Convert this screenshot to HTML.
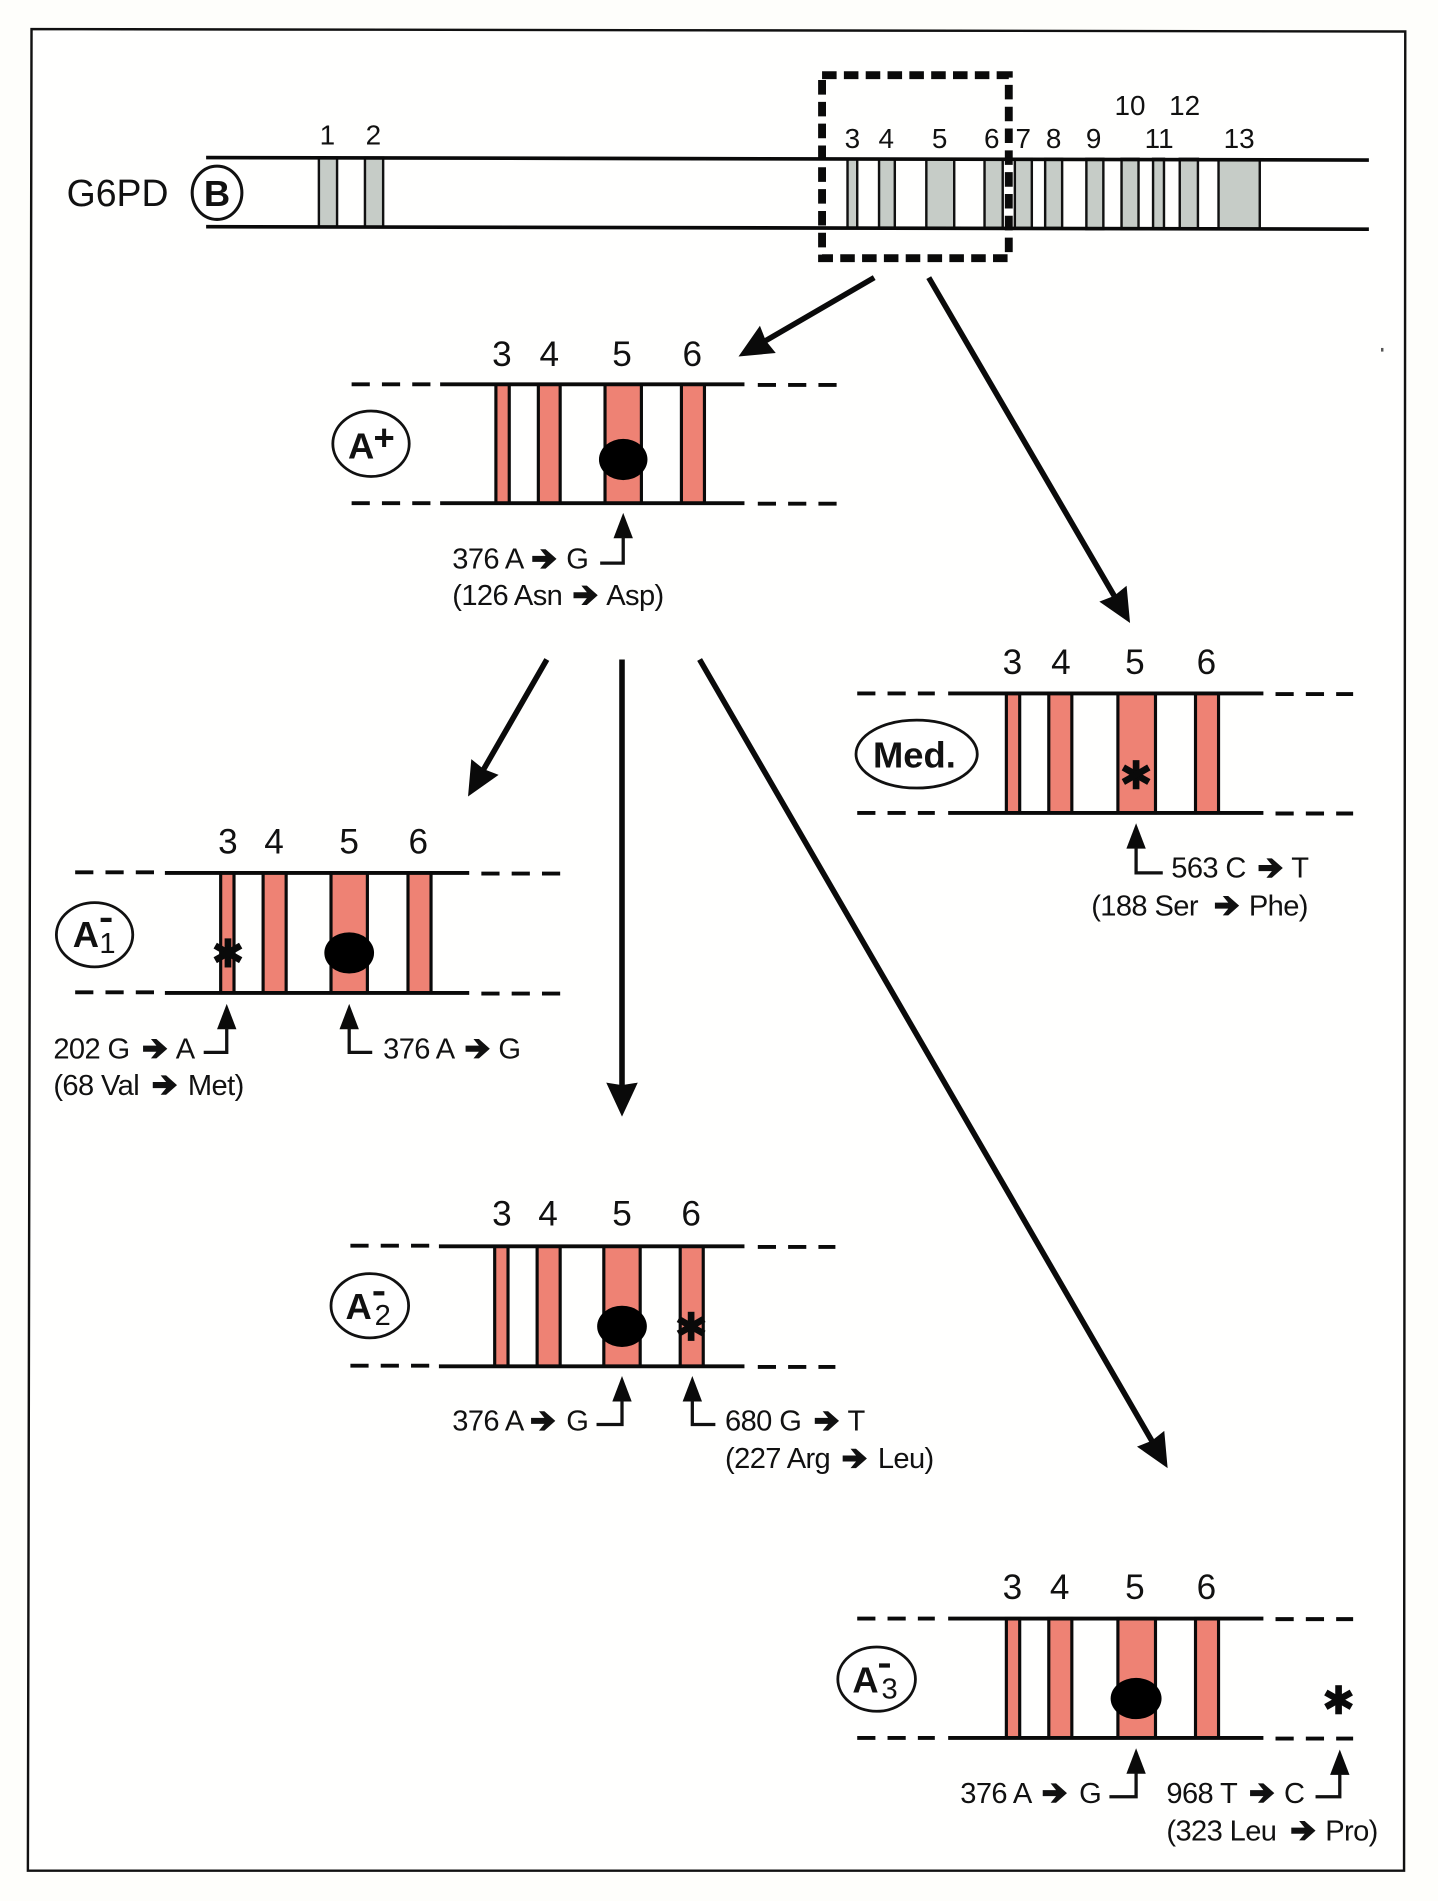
<!DOCTYPE html>
<html lang="en">
<head>
<meta charset="utf-8">
<title>G6PD variants</title>
<style>
html,body{margin:0;padding:0;background:#fefefb;}
svg{display:block;}
text{font-family:"Liberation Sans",Arial,sans-serif;fill:#111;}
.n{font-size:29px;text-anchor:middle;}
.m{font-size:23px;text-anchor:middle;}
.t{font-size:24px;letter-spacing:-.5px;}
.b{font-weight:bold;font-size:30px;}
.s{font-size:24px;}
</style>
</head>
<body>
<svg xmlns="http://www.w3.org/2000/svg" width="1438" height="1901" viewBox="0 0 1186 1568" preserveAspectRatio="none">
<defs>
  <marker id="h" viewBox="-24 -16 34 32" markerWidth="34" markerHeight="32" refX="0" refY="0" orient="auto" markerUnits="userSpaceOnUse">
    <path d="M-20,-13 L8,0 L-20,13 L-18,0Z" fill="#0a0a0a"/>
  </marker>
  <path id="a" d="M0,-2.5 H11 L6.500,-8 H11 L20,0 L11,8 H6.500 L11,2.500 H0Z" fill="#111"/>
  <path id="u" d="M0,0 L8,21 H-8Z" fill="#0a0a0a"/>
  <g id="st" stroke="#0a0a0a" stroke-width="5.500" stroke-linecap="butt">
    <line x1="0" y1="-12" x2="0" y2="12"/>
    <line x1="-10.500" y1="-6" x2="10.500" y2="6"/>
    <line x1="-10.500" y1="6" x2="10.500" y2="-6"/>
  </g>
  <g id="unit">
    <g fill="#ee8274" stroke="#0a0a0a" stroke-width="2.600">
      <rect x="409" y="317" width="11" height="98"/>
      <rect x="444" y="317" width="18" height="98"/>
      <rect x="499" y="317" width="30" height="98"/>
      <rect x="562" y="317" width="19" height="98"/>
    </g>
    <g stroke="#0a0a0a" stroke-width="3.200" fill="none">
      <line x1="363" y1="317" x2="614" y2="317"/>
      <line x1="363" y1="415" x2="614" y2="415"/>
      <line x1="290" y1="317" x2="355" y2="317" stroke-dasharray="15 10"/>
      <line x1="290" y1="415" x2="355" y2="415" stroke-dasharray="15 10"/>
      <line x1="625" y1="317.500" x2="690" y2="317.500" stroke-dasharray="15 10"/>
      <line x1="625" y1="415.500" x2="690" y2="415.500" stroke-dasharray="15 10"/>
    </g>
  </g>
  <g id="wide">
    <g fill="#ee8274" stroke="#0a0a0a" stroke-width="2.600">
      <rect x="830" y="0" width="11" height="98.500"/>
      <rect x="865" y="0" width="19" height="98.500"/>
      <rect x="922" y="0" width="31" height="98.500"/>
      <rect x="986" y="0" width="19" height="98.500"/>
    </g>
    <g stroke="#0a0a0a" stroke-width="3.200" fill="none">
      <line x1="782" y1="0" x2="1042" y2="0"/>
      <line x1="782" y1="98.500" x2="1042" y2="98.500"/>
      <line x1="707" y1="0" x2="771" y2="0" stroke-dasharray="15 10"/>
      <line x1="707" y1="98.500" x2="771" y2="98.500" stroke-dasharray="15 10"/>
      <line x1="1052" y1="0.500" x2="1116" y2="0.500" stroke-dasharray="15 10"/>
      <line x1="1052" y1="99" x2="1116" y2="99" stroke-dasharray="15 10"/>
    </g>
  </g>
</defs>

<rect x="0" y="0" width="1186" height="1568" fill="#fefefb"/>
<polygon points="26,24 1159,26 1158,1543 23,1543" fill="#fffffe" stroke="#111" stroke-width="2"/>
<rect x="1139" y="287" width="2" height="3" fill="#555"/>

<!-- main gene -->
<g fill="#c6ccc7" stroke="#111" stroke-width="2">
  <rect x="263" y="130" width="15" height="57"/>
  <rect x="301" y="130" width="15" height="57"/>
  <rect x="699" y="131" width="8" height="57"/>
  <rect x="725" y="131" width="13" height="57"/>
  <rect x="764" y="131" width="23" height="57"/>
  <rect x="812" y="131" width="15" height="57"/>
  <rect x="837" y="131" width="14" height="57"/>
  <rect x="862" y="131" width="14" height="57"/>
  <rect x="896" y="131" width="14" height="58"/>
  <rect x="925" y="131" width="14" height="58"/>
  <rect x="951" y="131" width="9" height="58"/>
  <rect x="973" y="131" width="15" height="58"/>
  <rect x="1005" y="132" width="34" height="57"/>
</g>
<g stroke="#0a0a0a" stroke-width="3">
  <line x1="170" y1="130" x2="1129" y2="132"/>
  <line x1="170" y1="187" x2="1129" y2="189"/>
</g>
<text x="55" y="170" font-size="31" textLength="84" lengthAdjust="spacingAndGlyphs">G6PD</text>
<ellipse cx="179" cy="159" rx="20.500" ry="22" fill="#fff" stroke="#111" stroke-width="2.500"/>
<text class="b" x="179" y="170" text-anchor="middle">B</text>

<text class="m" x="270" y="119">1</text>
<text class="m" x="308" y="119">2</text>
<text class="m" x="703" y="122">3</text>
<text class="m" x="731" y="122">4</text>
<text class="m" x="775" y="122">5</text>
<text class="m" x="818" y="122">6</text>
<text class="m" x="844" y="122">7</text>
<text class="m" x="869" y="122">8</text>
<text class="m" x="902" y="122">9</text>
<text class="m" x="956" y="122">11</text>
<text class="m" x="1022" y="122">13</text>
<text class="m" x="932" y="95">10</text>
<text class="m" x="977" y="95">12</text>

<rect x="678" y="62" width="154" height="151" fill="none" stroke="#0a0a0a" stroke-width="6.500" stroke-dasharray="12 6"/>

<!-- big arrows -->
<g stroke="#0a0a0a" stroke-width="4.600" fill="none">
  <line x1="721" y1="229" x2="616" y2="290" marker-end="url(#h)"/>
  <line x1="766" y1="229" x2="928" y2="507" marker-end="url(#h)"/>
  <line x1="451" y1="544" x2="390" y2="650" marker-end="url(#h)"/>
  <line x1="513" y1="544" x2="513" y2="913" marker-end="url(#h)"/>
  <line x1="577" y1="544" x2="959" y2="1204" marker-end="url(#h)"/>
</g>

<!-- A+ -->
<use href="#unit"/>
<text class="n" x="414" y="302">3</text>
<text class="n" x="453" y="302">4</text>
<text class="n" x="513" y="302">5</text>
<text class="n" x="571" y="302">6</text>
<ellipse cx="514" cy="379" rx="20" ry="17" fill="#000"/>
<ellipse cx="306" cy="366" rx="31.500" ry="27" fill="#fff" stroke="#111" stroke-width="2.300"/>
<text class="b" x="287" y="378">A</text>
<text x="308" y="371" font-size="30" font-weight="bold">+</text>
<use href="#u" x="514" y="423"/>
<path d="M514,443 V464.500 H495" fill="none" stroke="#111" stroke-width="2.700"/>
<text class="t" x="373" y="469">376 A</text>
<use href="#a" x="439" y="461"/>
<text class="t" x="467" y="469">G</text>
<text class="t" x="373" y="499">(126 Asn</text>
<use href="#a" x="473" y="491"/>
<text class="t" x="500" y="499">Asp)</text>

<!-- Med -->
<use href="#wide" y="572"/>
<text class="n" x="835" y="556">3</text>
<text class="n" x="875" y="556">4</text>
<text class="n" x="936" y="556">5</text>
<text class="n" x="995" y="556">6</text>
<use href="#st" x="937" y="639"/>
<ellipse cx="756" cy="622" rx="50" ry="28" fill="#fff" stroke="#111" stroke-width="2.300"/>
<text class="b" x="720" y="633">Med.</text>
<use href="#u" x="937" y="679"/>
<path d="M937,699 V720 H959" fill="none" stroke="#111" stroke-width="2.700"/>
<text class="t" x="966" y="724">563 C</text>
<use href="#a" x="1038" y="716"/>
<text class="t" x="1065" y="724">T</text>
<text class="t" x="900" y="755">(188 Ser</text>
<use href="#a" x="1002" y="747"/>
<text class="t" x="1030" y="755">Phe)</text>

<!-- A1 -->
<g fill="#ee8274" stroke="#0a0a0a" stroke-width="2.600">
  <rect x="182" y="720" width="11" height="99"/>
  <rect x="217" y="720" width="19" height="99"/>
  <rect x="273" y="720" width="30" height="99"/>
  <rect x="336.500" y="720" width="19" height="99"/>
</g>
<g stroke="#0a0a0a" stroke-width="3.200" fill="none">
  <line x1="136" y1="720" x2="387" y2="720"/>
  <line x1="136" y1="819" x2="387" y2="819"/>
  <line x1="62" y1="719.500" x2="127" y2="719.500" stroke-dasharray="15 10"/>
  <line x1="62" y1="818.500" x2="127" y2="818.500" stroke-dasharray="15 10"/>
  <line x1="397" y1="720.500" x2="463" y2="720.500" stroke-dasharray="15 10"/>
  <line x1="397" y1="819.500" x2="463" y2="819.500" stroke-dasharray="15 10"/>
</g>
<text class="n" x="188" y="704">3</text>
<text class="n" x="226" y="704">4</text>
<text class="n" x="288" y="704">5</text>
<text class="n" x="345" y="704">6</text>
<ellipse cx="288" cy="786" rx="20.500" ry="17" fill="#000"/>
<use href="#st" x="188" y="786"/>
<ellipse cx="78" cy="771" rx="31.500" ry="26.500" fill="#fff" stroke="#111" stroke-width="2.300"/>
<text class="b" x="60" y="781">A</text>
<rect x="83" y="757" width="9" height="3.500" fill="#111"/>
<text class="s" x="82" y="786">1</text>
<use href="#u" x="187" y="828"/>
<path d="M187,848 V868 H168" fill="none" stroke="#111" stroke-width="2.700"/>
<text class="t" x="44" y="873">202 G</text>
<use href="#a" x="118" y="865"/>
<text class="t" x="145" y="873">A</text>
<text class="t" x="44" y="903">(68 Val</text>
<use href="#a" x="126" y="895"/>
<text class="t" x="155" y="903">Met)</text>
<use href="#u" x="288" y="828"/>
<path d="M288,848 V868 H307" fill="none" stroke="#111" stroke-width="2.700"/>
<text class="t" x="316" y="873">376 A</text>
<use href="#a" x="384" y="865"/>
<text class="t" x="411" y="873">G</text>

<!-- A2 -->
<g fill="#ee8274" stroke="#0a0a0a" stroke-width="2.600">
  <rect x="408" y="1028" width="11" height="99"/>
  <rect x="443" y="1028" width="19" height="99"/>
  <rect x="498" y="1028" width="30" height="99"/>
  <rect x="561" y="1028" width="19" height="99"/>
</g>
<g stroke="#0a0a0a" stroke-width="3.200" fill="none">
  <line x1="362" y1="1028" x2="614" y2="1028"/>
  <line x1="362" y1="1127" x2="614" y2="1127"/>
  <line x1="289" y1="1027.500" x2="354" y2="1027.500" stroke-dasharray="15 10"/>
  <line x1="289" y1="1126.500" x2="354" y2="1126.500" stroke-dasharray="15 10"/>
  <line x1="625" y1="1028.500" x2="689" y2="1028.500" stroke-dasharray="15 10"/>
  <line x1="625" y1="1127.500" x2="689" y2="1127.500" stroke-dasharray="15 10"/>
</g>
<text class="n" x="414" y="1011">3</text>
<text class="n" x="452" y="1011">4</text>
<text class="n" x="513" y="1011">5</text>
<text class="n" x="570" y="1011">6</text>
<ellipse cx="513" cy="1094" rx="20.500" ry="17" fill="#000"/>
<use href="#st" x="570" y="1094"/>
<ellipse cx="305" cy="1077" rx="32" ry="26.500" fill="#fff" stroke="#111" stroke-width="2.300"/>
<text class="b" x="285" y="1088">A</text>
<rect x="308" y="1065" width="9" height="3.500" fill="#111"/>
<text class="s" x="309" y="1093">2</text>
<use href="#u" x="513" y="1135"/>
<path d="M513,1155 V1175 H492" fill="none" stroke="#111" stroke-width="2.700"/>
<text class="t" x="373" y="1180">376 A</text>
<use href="#a" x="438" y="1172"/>
<text class="t" x="467" y="1180">G</text>
<use href="#u" x="571" y="1135"/>
<path d="M571,1155 V1175 H590" fill="none" stroke="#111" stroke-width="2.700"/>
<text class="t" x="598" y="1180">680 G</text>
<use href="#a" x="672" y="1172"/>
<text class="t" x="699" y="1180">T</text>
<text class="t" x="598" y="1211">(227 Arg</text>
<use href="#a" x="695" y="1203"/>
<text class="t" x="724" y="1211">Leu)</text>

<!-- A3 -->
<use href="#wide" y="1335"/>
<text class="n" x="835" y="1319">3</text>
<text class="n" x="874" y="1319">4</text>
<text class="n" x="936" y="1319">5</text>
<text class="n" x="995" y="1319">6</text>
<ellipse cx="937" cy="1401" rx="21" ry="17" fill="#000"/>
<use href="#st" x="1104" y="1402"/>
<ellipse cx="723" cy="1385" rx="32" ry="26.500" fill="#fff" stroke="#111" stroke-width="2.300"/>
<text class="b" x="703" y="1396">A</text>
<rect x="725" y="1372" width="9" height="3.500" fill="#111"/>
<text class="s" x="727" y="1401">3</text>
<use href="#u" x="937" y="1442"/>
<path d="M937,1462 V1482 H915" fill="none" stroke="#111" stroke-width="2.700"/>
<text class="t" x="792" y="1487">376 A</text>
<use href="#a" x="860" y="1479"/>
<text class="t" x="890" y="1487">G</text>
<use href="#u" x="1105" y="1443"/>
<path d="M1105,1463 V1482 H1085" fill="none" stroke="#111" stroke-width="2.700"/>
<text class="t" x="962" y="1487">968 T</text>
<use href="#a" x="1031" y="1479"/>
<text class="t" x="1059" y="1487">C</text>
<text class="t" x="962" y="1518">(323 Leu</text>
<use href="#a" x="1065" y="1510"/>
<text class="t" x="1093" y="1518">Pro)</text>
</svg>
</body>
</html>
